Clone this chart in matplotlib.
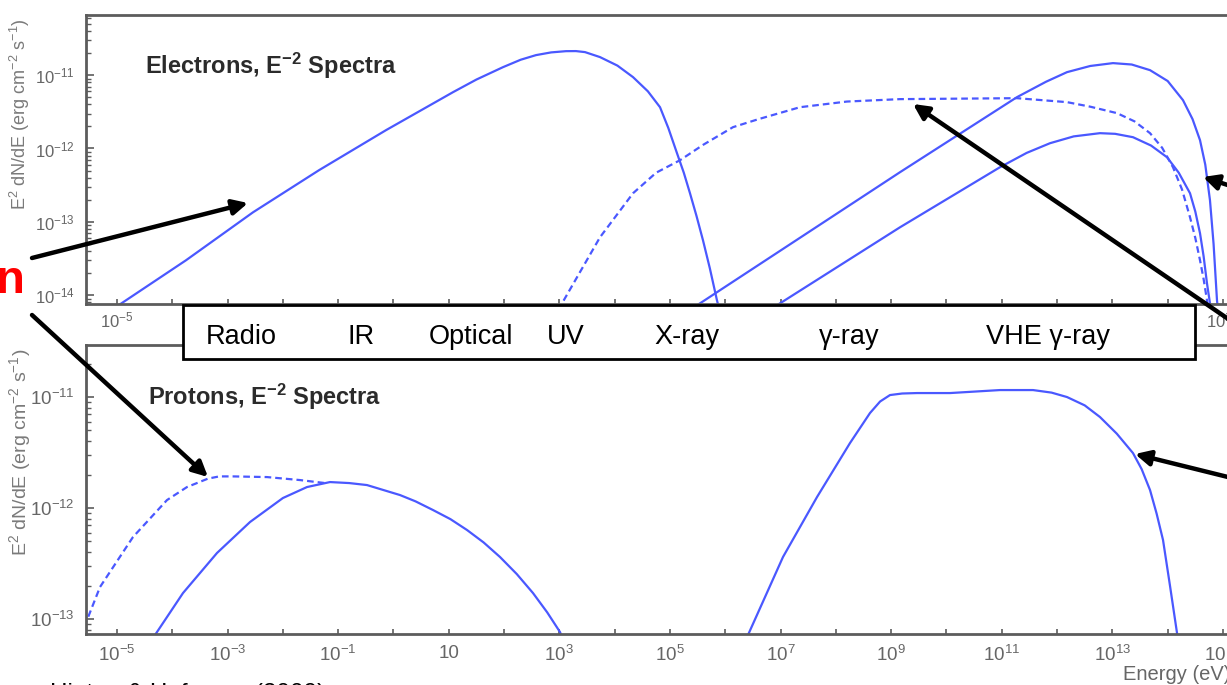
import numpy as np
import matplotlib
matplotlib.use("Agg")
import matplotlib.pyplot as plt
from matplotlib.patches import Rectangle, FancyArrowPatch
from matplotlib.ticker import FixedLocator, FuncFormatter, LogLocator, NullFormatter

plt.rcParams['font.family'] = ['Liberation Sans', 'DejaVu Sans']
plt.rcParams['mathtext.fontset'] = 'custom'
plt.rcParams['mathtext.rm'] = 'Liberation Sans'
plt.rcParams['mathtext.it'] = 'Liberation Sans:italic'
plt.rcParams['mathtext.bf'] = 'Liberation Sans:bold'

# ---------------- data (log10 E [eV], log10 E^2 dN/dE [erg cm^-2 s^-1]) ----------------
# Electrons panel
sync_logE = [-5.2, -4.945, -3.752, -2.540, -1.347, -0.135, 1.077, 1.5, 1.981, 2.3, 2.577, 2.85, 3.120,
             3.3, 3.464, 3.735, 4.05, 4.332, 4.6, 4.820, 4.97, 5.127, 5.25, 5.362, 5.48, 5.597, 5.72,
             5.850, 5.941]
sync_logF = [-14.25, -14.124, -13.524, -12.870, -12.296, -11.750, -11.232, -11.060, -10.891, -10.790,
             -10.727, -10.690, -10.673, -10.672, -10.686, -10.754, -10.870, -11.027, -11.220, -11.437,
             -11.720, -12.064, -12.330, -12.610, -12.920, -13.251, -13.630, -14.070, -14.34]

edash_logE = [2.921, 3.048, 3.735, 4.332, 4.75, 5.181, 5.6, 6.140, 6.6, 7.351, 8.2, 9.160, 11.275,
              12.180, 12.6, 13.084, 13.4, 13.681, 13.9, 14.096, 14.26, 14.404, 14.5, 14.585, 14.65,
              14.711, 14.76]
edash_logF = [-14.34, -14.111, -13.210, -12.610, -12.330, -12.160, -11.950, -11.709, -11.600, -11.437,
              -11.360, -11.327, -11.314, -11.368, -11.430, -11.518, -11.630, -11.791, -11.990, -12.255,
              -12.560, -12.937, -13.220, -13.524, -13.780, -14.070, -14.35]

ic_hi_logE = [5.3, 5.543, 9.160, 11.275, 11.8, 12.180, 12.6, 13.011, 13.35, 13.681, 14.0, 14.277,
              14.45, 14.585, 14.68, 14.765, 14.83, 14.892, 14.93]
ic_hi_logF = [-14.23, -14.111, -12.323, -11.300, -11.090, -10.959, -10.875, -10.836, -10.855, -10.932,
              -11.080, -11.341, -11.600, -11.887, -12.220, -12.705, -13.300, -14.070, -14.35]

ic_lo_logE = [6.7, 6.990, 9.160, 10.968, 11.45, 11.872, 12.3, 12.776, 13.05, 13.373, 13.7, 13.988,
              14.2, 14.404, 14.5, 14.585, 14.65, 14.711, 14.765, 14.80]
ic_lo_logF = [-14.25, -14.111, -13.074, -12.255, -12.060, -11.928, -11.835, -11.791, -11.800, -11.846,
              -11.960, -12.119, -12.330, -12.610, -12.860, -13.156, -13.470, -13.838, -14.111, -14.35]

# Protons panel
pdash_logE = [-5.62, -5.542, -5.307, -4.710, -4.095, -3.734, -3.354, -3.15, -2.902, -2.287, -1.690,
              -1.238]
pdash_logF = [-13.06, -13.009, -12.712, -12.261, -11.928, -11.811, -11.735, -11.715, -11.715, -11.721,
              -11.748, -11.775]

psync_logE = [-4.40, -4.312, -3.806, -3.191, -2.594, -2.000, -1.564, -1.148, -0.8, -0.479, 0.118,
              0.4, 0.715, 1.03, 1.330, 1.63, 1.926, 2.23, 2.523, 2.78, 3.011, 3.102]
psync_logF = [-13.22, -13.144, -12.766, -12.405, -12.126, -11.910, -11.811, -11.766, -11.775, -11.793,
              -11.883, -11.940, -12.018, -12.100, -12.198, -12.310, -12.441, -12.595, -12.766, -12.940,
              -13.117, -13.234]

ppi_logE = [6.33, 6.411, 7.044, 7.659, 8.256, 8.617, 8.8, 8.979, 9.2, 9.467, 10.064, 10.968, 11.565,
            11.9, 12.180, 12.5, 12.776, 13.08, 13.373, 13.53, 13.681, 13.8, 13.916, 14.042, 14.169, 14.20]
ppi_logF = [-13.25, -13.144, -12.441, -11.901, -11.414, -11.144, -11.040, -10.982, -10.968, -10.964,
            -10.964, -10.937, -10.937, -10.960, -11.000, -11.075, -11.180, -11.330, -11.505, -11.650,
            -11.838, -12.050, -12.288, -12.700, -13.126, -13.25]

band_labels = ["Radio", "IR", "Optical", "UV", "X-ray", "\u03b3-ray", "VHE \u03b3-ray"]
band_xpix = [241, 361, 471, 566, 687, 849, 1048]

# ---------------- figure ----------------
W, H = 1227, 685
fig = plt.figure(figsize=(W / 100, H / 100), dpi=100)

BLUE = '#4a58ff'
SPINE = '#5c5c5c'
TICKC = '#666666'

x_lo, x_hi = -5.56, 15.5
ax_w = (x_hi - x_lo) * 55.3

ax1 = fig.add_axes([86 / W, (H - 304) / H, ax_w / W, 289 / H])
ax2 = fig.add_axes([86 / W, (H - 634) / H, ax_w / W, 289 / H])


def xfmt(v, pos):
    e = int(round(np.log10(v)))
    if e % 2 == 0:
        return ''
    if e == 1:
        return '10'
    return r'$\mathregular{10^{%d}}$' % e


for ax, ylo, yhi, fs, xpad in [(ax1, -14.12, -10.18, 12, 5), (ax2, -13.135, -10.531, 13.5, 8)]:
    ax.set_xscale('log')
    ax.set_yscale('log')
    ax.set_xlim(10 ** x_lo, 10 ** x_hi)
    ax.set_ylim(10 ** ylo, 10 ** yhi)
    ax.xaxis.set_major_locator(FixedLocator([10.0 ** e for e in range(-5, 16)]))
    ax.xaxis.set_major_formatter(FuncFormatter(xfmt))
    ax.xaxis.set_minor_locator(FixedLocator([]))
    ax.yaxis.set_major_locator(LogLocator(base=10, numticks=20))
    ax.yaxis.set_minor_locator(LogLocator(base=10, subs=np.arange(2, 10), numticks=20))
    ax.yaxis.set_minor_formatter(NullFormatter())
    ax.tick_params(axis='x', which='major', direction='in', length=3.5, width=1.2,
                   color=SPINE, labelcolor=TICKC, labelsize=fs, pad=xpad)
    ax.tick_params(axis='y', which='major', direction='in', length=6, width=1.2,
                   color=SPINE, labelcolor=TICKC, labelsize=fs, pad=8)
    ax.tick_params(axis='y', which='minor', direction='in', length=3.5, width=1.0, color=SPINE)
    for s in ax.spines.values():
        s.set_color(SPINE)
        s.set_linewidth(2.0)

lw = 1.6
dash = (0, (3, 1.8))
ax1.plot(10.0 ** np.array(sync_logE), 10.0 ** np.array(sync_logF), color=BLUE, lw=lw)
ax1.plot(10.0 ** np.array(edash_logE), 10.0 ** np.array(edash_logF), color=BLUE, lw=lw, ls=dash)
ax1.plot(10.0 ** np.array(ic_hi_logE), 10.0 ** np.array(ic_hi_logF), color=BLUE, lw=lw)
ax1.plot(10.0 ** np.array(ic_lo_logE), 10.0 ** np.array(ic_lo_logF), color=BLUE, lw=lw)

ax2.plot(10.0 ** np.array(pdash_logE), 10.0 ** np.array(pdash_logF), color=BLUE, lw=lw, ls=dash)
ax2.plot(10.0 ** np.array(psync_logE), 10.0 ** np.array(psync_logF), color=BLUE, lw=lw)
ax2.plot(10.0 ** np.array(ppi_logE), 10.0 ** np.array(ppi_logF), color=BLUE, lw=lw)

# panel titles
TITLEC = '#2b2b2b'
fig.text(145 / W, (H - 74) / H, r'Electrons, E$^{\mathbf{-2}}$ Spectra', fontsize=17,
         fontweight='bold', color=TITLEC, ha='left', va='baseline')
fig.text(148 / W, (H - 405) / H, r'Protons, E$^{\mathbf{-2}}$ Spectra', fontsize=17,
         fontweight='bold', color=TITLEC, ha='left', va='baseline')

# y labels
YLC = '#7a7a7a'
fig.text(20 / W, (H - 114) / H, r'E$^2$ dN/dE (erg cm$^{-2}$ s$^{-1}$)', rotation=90,
         fontsize=13, color=YLC, ha='center', va='center')
fig.text(20 / W, (H - 452) / H, r'E$^2$ dN/dE (erg cm$^{-2}$ s$^{-1}$)', rotation=90,
         fontsize=14, color=YLC, ha='center', va='center')

# x label (cut off at the right edge)
fig.text(1123 / W, 5 / H, 'Energy (eV)', fontsize=14.5, color=TICKC, ha='left', va='baseline')

# band box
fig.add_artist(Rectangle((183 / W, (H - 359) / H), (1195 - 183) / W, 54 / H,
                         transform=fig.transFigure, facecolor='white', edgecolor='black',
                         linewidth=2.0, zorder=10))
for lab, xp in zip(band_labels, band_xpix):
    fig.text(xp / W, (H - 344) / H, lab, fontsize=19.5, color='black', ha='center',
             va='baseline', zorder=11)

# red annotation letter (partial word at left edge)
fig.text(25 / W, (H - 293) / H, 'n', fontsize=34, fontweight='bold', color='#ff0000',
         ha='right', va='baseline')

# reference (cut off at bottom edge)
fig.text(50 / W, -15 / H, 'Hinton & Hofmann (2009)', fontsize=17.5, color='black',
         ha='left', va='baseline')

# arrows (figure pixels, origin bottom-left)
arrows = [((32, H - 258), (248, H - 203)),
          ((32, H - 315), (208, H - 477)),
          ((1240, H - 327), (913, H - 104)),
          ((1240, H - 189), (1203, H - 177)),
          ((1240, H - 480), (1135, H - 454))]
for tail, head in arrows:
    fig.add_artist(FancyArrowPatch(
        (tail[0] / W, tail[1] / H), (head[0] / W, head[1] / H), transform=fig.transFigure,
        arrowstyle='-|>,head_length=0.9,head_width=0.45', mutation_scale=10,
        color='black', lw=3.2, shrinkA=0, shrinkB=0, zorder=12))

fig.savefig('out.png', dpi=100)
